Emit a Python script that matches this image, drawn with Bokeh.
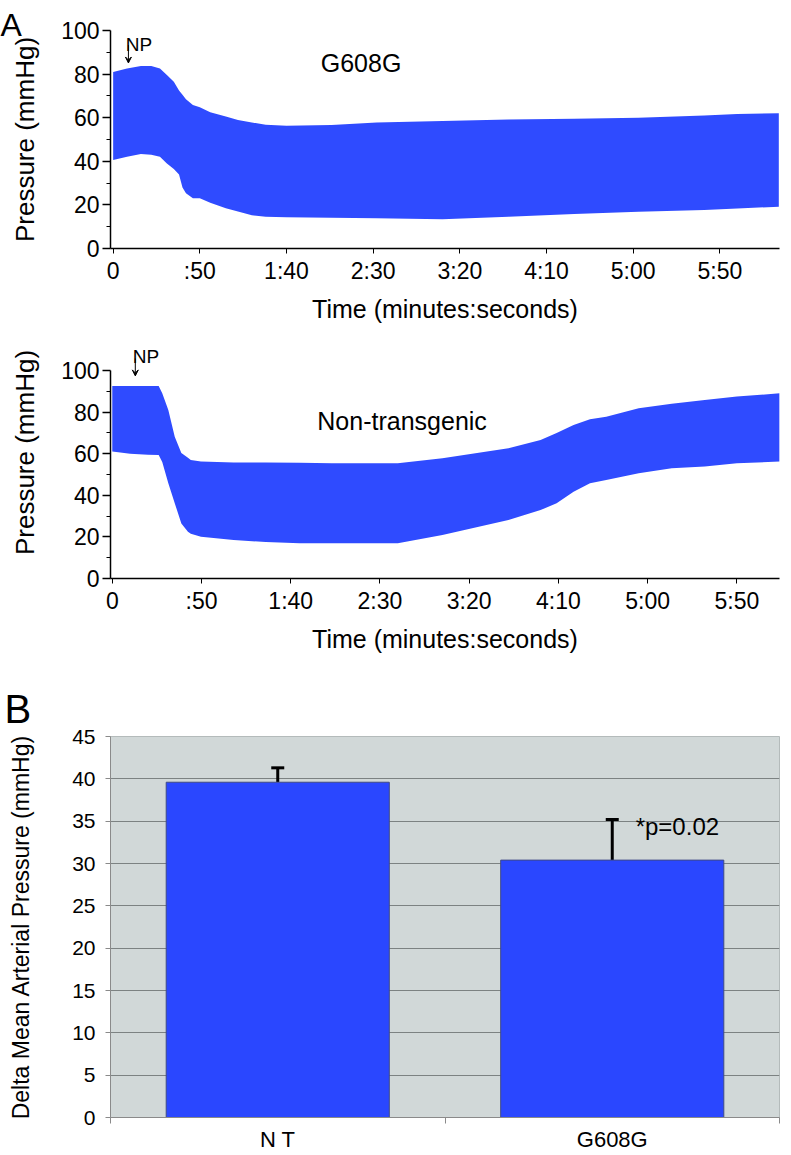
from bokeh.plotting import figure
from bokeh.layouts import column
from bokeh.models import Range1d, FixedTicker, Label, Arrow, VeeHead, TeeHead, Whisker, ColumnDataSource
from bokeh.embed import file_html
from bokeh.resources import INLINE

FONT = "Liberation Sans"
BLUE = "#2f4bff"

# ---------------- data ----------------
time_ticks = [0, 50, 100, 150, 200, 250, 300, 350]
time_labels = ["0", ":50", "1:40", "2:30", "3:20", "4:10", "5:00", "5:50"]
pressure_ticks = [0, 20, 40, 60, 80, 100]
pressure_minor = [10, 30, 50, 70, 90]

# G608G trace envelopes (seconds, mmHg)
g608g_t = [0, 8, 16, 22, 27, 31, 35, 38, 40, 42, 46, 50, 56, 65, 72, 80, 88,
           100, 126, 152, 190, 228, 266, 303, 341, 360, 384]
g608g_upper = [81, 82.6, 83.7, 83.7, 82.6, 79.6, 76.5, 72.5, 70.5, 68.5, 65.8, 64.8,
               62.5, 60.5, 59, 57.8, 56.8, 56.3, 56.6, 57.8, 58.5, 59.2, 59.5, 60,
               61, 61.7, 62]
g608g_lower = [40.6, 42.1, 43.3, 43, 42.1, 39, 36.5, 34, 28, 25.3, 23, 23, 21, 18.5,
               17, 15.2, 14.6, 14.3, 14.1, 13.9, 13.4, 14.6, 15.8, 16.9, 17.7, 18.3, 19.2]

# Non-transgenic trace envelopes (seconds, mmHg)
nt_t = [0, 10, 20, 26, 28, 31.4, 35, 38.7, 42.4, 44, 49.7, 68, 86, 105, 123, 149,
        160, 185, 222, 240, 249, 258.5, 267.7, 276.8, 295, 313.5, 332, 350, 374]
nt_upper = [92.5, 92.5, 92.5, 92.5, 89, 81, 68.2, 60.3, 58, 57, 56.2, 55.8, 55.8,
            55.6, 55.4, 55.4, 55.4, 57.8, 62.6, 66.6, 70, 73.8, 76.5, 77.8, 81.8,
            84, 85.8, 87.5, 89]
nt_lower = [61, 60, 59.5, 59.4, 56, 45.8, 36.2, 26.5, 22.5, 21.5, 20.1, 18.5, 17.5,
            16.9, 16.9, 16.9, 17, 20.9, 28.1, 32.9, 36.2, 41.7, 45.8, 47.4, 50.6,
            53, 53.8, 55.4, 56.2]

# Panel B
groups = ["N T", "G608G"]
delta_map = [39.6, 30.4]
delta_err = [1.7, 4.8]
delta_ticks = [0, 5, 10, 15, 20, 25, 30, 35, 40, 45]

W = 790


def base_axes(p):
    p.grid.visible = False
    p.outline_line_color = None
    for ax in p.axis:
        ax.major_label_text_font = FONT
        ax.axis_label_text_font = FONT
        ax.axis_label_text_font_style = "normal"
        ax.major_label_text_color = "black"
        ax.axis_label_text_color = "black"


def trace_fig(t, lo, up, xr, yr, height, top, bottom, left, name, name_x, name_y,
              np_t, np_label_t, np_label_y, np_y0, np_y1):
    p = figure(width=W, height=height, x_range=Range1d(*xr), y_range=Range1d(*yr),
               min_border_left=left, min_border_right=0, min_border_top=top,
               min_border_bottom=bottom, output_backend="svg", toolbar_location=None)
    p.varea(x=t, y1=lo, y2=up, fill_color=BLUE)
    base_axes(p)
    ya = p.yaxis[0]
    ya.bounds = (pressure_ticks[0], pressure_ticks[-1])
    ya.ticker = FixedTicker(ticks=pressure_ticks, minor_ticks=pressure_minor)
    ya.axis_label = "Pressure (mmHg)"
    ya.axis_label_text_font_size = "26px"
    ya.axis_label_standoff = 18
    ya.major_label_text_font_size = "23px"
    ya.major_label_standoff = 3
    ya.major_tick_out = 8
    ya.major_tick_in = 0
    ya.minor_tick_out = 4
    ya.minor_tick_in = 0
    ya.axis_line_width = 1.5
    ya.major_tick_line_width = 1.5
    xa = p.xaxis[0]
    xa.ticker = FixedTicker(ticks=time_ticks, minor_ticks=[])
    xa.major_label_overrides = dict(zip(time_ticks, time_labels))
    xa.axis_label = "Time (minutes:seconds)"
    xa.axis_label_text_font_size = "25px"
    xa.axis_label_standoff = 8
    xa.major_label_text_font_size = "23px"
    xa.major_label_standoff = 4
    xa.major_tick_out = 5
    xa.major_tick_in = 0
    xa.axis_line_width = 1.5
    p.add_layout(Label(x=name_x, y=name_y, text=name, text_font=FONT, text_font_size="25px",
                       text_align="center", text_baseline="alphabetic", text_color="black"))
    p.add_layout(Label(x=np_label_t, y=np_label_y, text="NP", text_font=FONT,
                       text_font_size="19px", text_align="left",
                       text_baseline="alphabetic", text_color="black"))
    p.add_layout(Arrow(x_start=np_t, y_start=np_y0, x_end=np_t, y_end=np_y1,
                       line_width=1, line_color="black",
                       end=VeeHead(size=6, line_color="black", line_width=1)))
    return p


def panel_letter(p, letter, size, offset, standoff):
    p.title.text = letter
    p.title.text_font = FONT
    p.title.text_font_size = size
    p.title.text_font_style = "normal"
    p.title.text_color = "black"
    p.title.align = "left"
    p.title.vertical_align = "middle"
    p.title.offset = offset
    p.title.standoff = standoff


p1 = trace_fig(g608g_t, g608g_lower, g608g_upper, (-1.53, 384.4), (0, 100), 326, 30, 78, 108,
               "G608G", 143, 85.3, 8.8, 7.3, 93.6, 93.3, 85.1)
panel_letter(p1, "A", "32px", -110, -26)

p2 = trace_fig(nt_t, nt_lower, nt_upper, (-1.0, 373.9), (0, 121.15), 332, 0, 80, 108,
               "Non-transgenic", 162.4, 75.5, 12.9, 11.5, 106.8, 105.8, 97.4)

# ---------------- panel B ----------------
xs = [i + 0.5 for i in range(len(groups))]
src = ColumnDataSource(dict(x=xs, top=delta_map,
                            upper=[v + e for v, e in zip(delta_map, delta_err)]))
p3 = figure(width=W, height=496, x_range=Range1d(0, 2), y_range=Range1d(0, 45),
            min_border_left=110, min_border_right=11, min_border_top=78, min_border_bottom=37,
            output_backend="svg", toolbar_location=None)
base_axes(p3)
panel_letter(p3, "B", "40px", -106, 10)
p3.background_fill_color = "#d1d8d8"
p3.outline_line_color = "#b4bbbb"
p3.ygrid.visible = True
p3.ygrid.grid_line_color = "#7c8282"
p3.ygrid.grid_line_width = 1
p3.ygrid.ticker = FixedTicker(ticks=delta_ticks)
p3.vbar(x="x", top="top", width=0.667, bottom=0, source=src, fill_color="#2a47ff",
        line_color="#3f4a86", line_width=1)
p3.add_layout(Whisker(source=src, base="x", lower="top", upper="upper", line_width=3,
                      line_color="black", lower_head=None,
                      upper_head=TeeHead(size=13, line_width=3, line_color="black")))
ya = p3.yaxis[0]
ya.ticker = FixedTicker(ticks=delta_ticks, minor_ticks=[])
ya.axis_label = "Delta Mean Arterial Pressure (mmHg)"
ya.axis_label_text_font_size = "23px"
ya.axis_label_standoff = 35
ya.major_label_text_font_size = "21px"
ya.major_label_standoff = 10
ya.major_tick_out = 5
ya.major_tick_in = 0
ya.axis_line_color = "#8a8a8a"
ya.major_tick_line_color = "#8a8a8a"
xa = p3.xaxis[0]
xa.ticker = FixedTicker(ticks=xs, minor_ticks=[0, 1, 2])
xa.major_label_overrides = dict(zip(xs, groups))
xa.major_label_text_font_size = "22px"
xa.major_tick_line_color = None
xa.major_tick_out = 0
xa.major_label_standoff = 3
xa.minor_tick_out = 6
xa.minor_tick_in = 0
xa.minor_tick_line_color = "#8a8a8a"
xa.axis_line_color = "#8a8a8a"
p3.add_layout(Label(x=1.57, y=34.4, text="*p=0.02", text_font=FONT, text_font_size="24px",
                    text_align="left", text_baseline="alphabetic", text_color="black"))

layout = column(p1, p2, p3, spacing=0)
open("out.html", "w").write(file_html(layout, INLINE))
